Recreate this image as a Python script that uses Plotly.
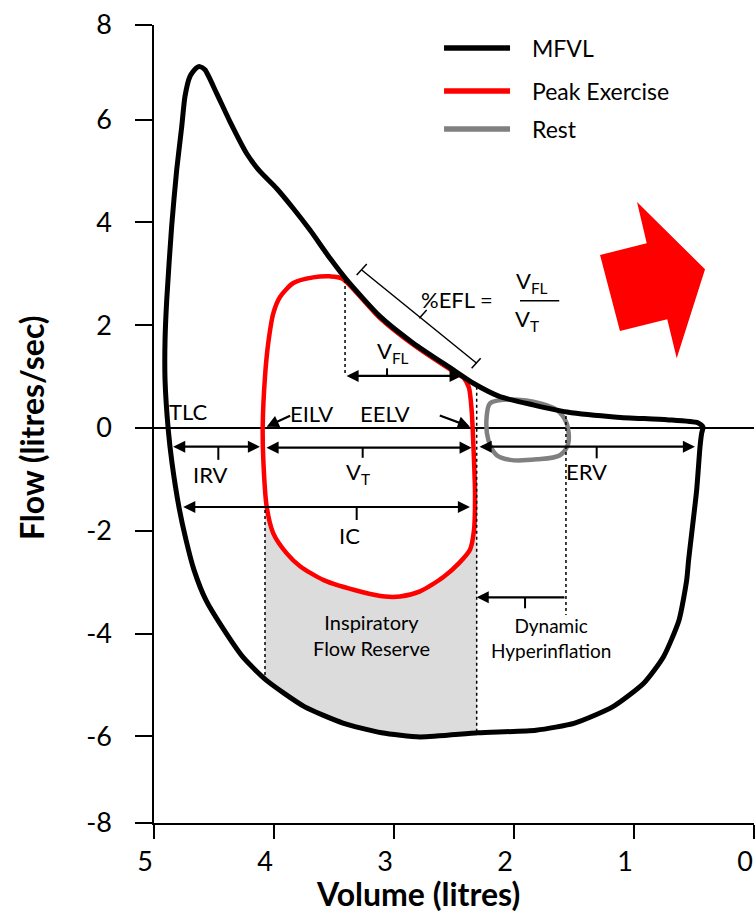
import numpy as np
import plotly.graph_objects as go

FONT = "Lato"

# ---------------- data (volume in litres, flow in litres/sec) ----------------
# Maximal flow-volume loop (MFVL)
mfvl_vol = [4.881, 4.908, 4.908, 4.894, 4.853, 4.811, 4.769, 4.742, 4.700, 4.650,
            4.617, 4.575, 4.478, 4.367, 4.228, 4.117, 3.978, 3.839, 3.700, 3.533,
            3.394, 3.117, 2.839, 2.506, 2.339, 2.117, 1.842, 1.558, 1.142, 0.725,
            0.467, 0.425, 0.436, 0.450, 0.478, 0.545, 0.561, 0.625, 0.754, 0.917,
            1.175, 1.494, 1.817, 2.300, 2.783, 3.103, 3.425, 3.747, 4.068, 4.258,
            4.433, 4.567, 4.667, 4.733, 4.792, 4.850, 4.881]
mfvl_flow = [-0.04, 0.93, 1.71, 2.49, 3.92, 5.02, 5.86, 6.45, 6.84, 7.00,
             7.03, 6.97, 6.51, 5.96, 5.34, 4.99, 4.66, 4.27, 3.85, 3.30,
             2.88, 2.17, 1.65, 1.13, 0.87, 0.61, 0.45, 0.31, 0.21, 0.16,
             0.10, 0.02, -0.10, -0.37, -1.21, -2.57, -2.96, -3.74, -4.45, -4.96,
             -5.42, -5.74, -5.88, -5.93, -6.01, -5.93, -5.74, -5.42, -4.90, -4.46,
             -3.87, -3.35, -2.76, -2.18, -1.54, -0.68, -0.04]

# Peak exercise tidal loop
ex_vol = [4.094, 4.075, 4.048, 4.006, 3.950, 3.839, 3.673, 3.533, 3.433, 3.117,
          2.839, 2.506, 2.417, 2.375, 2.353, 2.339, 2.325, 2.333, 2.367, 2.458,
          2.588, 2.783, 2.950, 3.075, 3.267, 3.586, 3.783, 3.894, 4.006, 4.061,
          4.089, 4.094]
ex_flow = [0.03, 1.00, 1.65, 2.23, 2.55, 2.82, 2.93, 2.95, 2.91, 2.14,
           1.62, 1.10, 0.97, 0.78, 0.35, -0.30, -1.27, -1.98, -2.37, -2.63,
           -2.90, -3.18, -3.28, -3.28, -3.19, -2.96, -2.69, -2.44, -2.05, -1.53,
           -0.62, 0.03]

# Resting tidal loop
rest_vol = [2.200, 2.089, 1.839, 1.644, 1.561, 1.548, 1.617, 1.811, 2.033, 2.144,
            2.214, 2.228, 2.200]
rest_flow = [0.48, 0.55, 0.51, 0.35, 0.09, -0.30, -0.53, -0.61, -0.62, -0.53,
             -0.23, 0.22, 0.48]

# Key lung volumes (litres)
tlc, eilv, eelv, eelv_rest, rv = 4.853, 4.075, 2.311, 1.567, 0.492
vfl_start = 3.408

x_ticks = [0, 1, 2, 3, 4, 5]
y_ticks = [-7.685, -6, -4, -2, 0, 2, 4, 6, 7.84]
y_tick_text = ["-8", "-6", "-4", "-2", "0", "2", "4", "6", "8"]

legend_names = ["MFVL", "Peak Exercise", "Rest"]
legend_colors = ["#000000", "#ff0000", "#808080"]

# ---------------- inspiratory flow reserve region ----------------
mv = np.array(mfvl_vol); mf = np.array(mfvl_flow)
ev = np.array(ex_vol); ef = np.array(ex_flow)
insp_m_v, insp_m_f = mv[32:56], mf[32:56]      # MFVL inspiratory branch (vol increasing)
insp_e_v, insp_e_f = ev[16:31], ef[16:31]      # exercise inspiratory branch
sel = (insp_e_v > eelv) & (insp_e_v < eilv)
top_v = np.concatenate([[eelv], insp_e_v[sel], [eilv]])
top_f = np.concatenate([[np.interp(eelv, insp_e_v, insp_e_f)], insp_e_f[sel],
                        [np.interp(eilv, insp_e_v, insp_e_f)]])
selm = (insp_m_v > eelv) & (insp_m_v < eilv)
bot_v = np.concatenate([[eilv], insp_m_v[selm][::-1], [eelv]])
bot_f = np.concatenate([[np.interp(eilv, insp_m_v, insp_m_f)], insp_m_f[selm][::-1],
                        [np.interp(eelv, insp_m_v, insp_m_f)]])
fill_v = np.concatenate([top_v, bot_v])
fill_f = np.concatenate([top_f, bot_f])

fig = go.Figure()
fig.add_trace(go.Scatter(x=fill_v, y=fill_f, fill="toself", fillcolor="#dcdcdc",
                         line=dict(width=0), mode="lines", hoverinfo="skip",
                         showlegend=False))
fig.add_trace(go.Scatter(x=rest_vol, y=rest_flow, mode="lines", name="Rest",
                         line=dict(color="#808080", width=4.5, shape="spline", smoothing=0.9),
                         showlegend=False))
fig.add_trace(go.Scatter(x=ex_vol, y=ex_flow, mode="lines", name="Peak Exercise",
                         line=dict(color="#ff0000", width=4.5, shape="spline", smoothing=0.7),
                         showlegend=False))
fig.add_trace(go.Scatter(x=mfvl_vol, y=mfvl_flow, mode="lines", name="MFVL",
                         line=dict(color="#000000", width=5, shape="spline", smoothing=0.6),
                         showlegend=False))

shapes = []
ann = []

def seg(x0, y0, x1, y1, width=2, dash="solid", color="black"):
    shapes.append(dict(type="line", xref="x", yref="y", x0=x0, y0=y0, x1=x1, y1=y1,
                       line=dict(color=color, width=width, dash=dash), layer="above"))

def arrow(xh, yh, xt, yt, both=False):
    ann.append(dict(x=xh, y=yh, ax=xt, ay=yt, xref="x", yref="y", axref="x", ayref="y",
                    text="", showarrow=True, arrowhead=2, arrowsize=1.1, arrowwidth=2.2,
                    arrowcolor="black", standoff=0, startstandoff=0,
                    arrowside="end+start" if both else "end", startarrowhead=2,
                    startarrowsize=1.1))

def text(x, y, s, size=22, xanchor="center"):
    ann.append(dict(x=x, y=y, xref="x", yref="y", text=s, showarrow=False,
                    xanchor=xanchor, yanchor="middle",
                    font=dict(family=FONT, size=size, color="black")))

# dotted guide lines
seg(vfl_start, 2.879, vfl_start, 1.012, 1.5, "dot")
seg(eelv, 0.80, eelv, -5.93, 1.5, "dot")
seg(eilv, -1.595, eilv, -4.93, 1.5, "dot")
seg(eelv_rest, 0.35, eelv_rest, -3.64, 1.5, "dot")

# horizontal volume arrows
arrow(4.117, -0.364, tlc, -0.364, both=True)           # IRV
seg(4.464, -0.364, 4.464, -0.62)
arrow(2.353, -0.383, eilv, -0.383, both=True)          # VT
seg(3.261, -0.383, 3.261, -0.58)
arrow(rv, -0.364, 2.300, -0.364, both=True)            # ERV
seg(1.311, -0.364, 1.311, -0.59)
arrow(2.367, -1.537, 4.769, -1.537, both=True)         # IC
seg(3.311, -1.537, 3.311, -1.79)
arrow(2.436, 1.012, vfl_start, 1.012, both=True)       # VFL
seg(3.058, 1.012, 3.058, 1.161)
arrow(eelv, -3.294, eelv_rest, -3.294)                 # dynamic hyperinflation
seg(1.908, -3.294, 1.908, -3.508)
arrow(4.061, 0.025, 3.853, 0.253)                      # EILV pointer
arrow(2.367, 0.025, 2.631, 0.253)                      # EELV pointer

# %EFL bracket
seg(3.269, 3.074, 2.311, 1.259, 1.5)
seg(3.311, 2.977, 3.227, 3.191, 1.5)
seg(2.353, 1.161, 2.278, 1.356, 1.5)
seg(2.789, 2.134, 2.728, 2.296, 1.5)
seg(1.950, 2.477, 1.623, 2.477, 1.5)

# labels
text(4.714, 0.317, "TLC")
text(4.533, -0.914, "IRV")
text(3.686, 0.286, "EILV")
text(3.075, 0.286, "EELV")
text(3.300, -0.875, "V<sub>T</sub>")
text(3.367, -2.082, "IC")
text(1.394, -0.850, "ERV")
text(3.006, 1.484, "V<sub>FL</sub>")
text(2.478, 2.504, "%EFL =")
text(1.853, 2.846, "V<sub>FL</sub>")
text(1.894, 2.101, "V<sub>T</sub>")
text(3.188, -4.037, "Inspiratory<br>Flow Reserve", size=20)
text(1.688, -4.091, "Dynamic<br>Hyperinflation", size=19)

# red block arrow
arr_v = [1.283, 0.894, 0.975, 0.408, 0.644, 0.723, 1.117]
arr_f = [3.366, 3.593, 4.397, 3.088, 1.356, 2.115, 1.887]
path = "M " + " L ".join(f"{v},{f}" for v, f in zip(arr_v, arr_f)) + " Z"
shapes.append(dict(type="path", xref="x", yref="y", path=path, fillcolor="#ff0000",
                   line=dict(width=0), layer="above"))

# legend (drawn manually)
leg_y = [7.393, 6.556, 5.817]
for name, col, ly in zip(legend_names, legend_colors, leg_y):
    seg(2.583, ly, 2.033, ly, 5.5, "solid", col)
    text(1.867, ly, name, size=23, xanchor="left")

# axis titles
ann.append(dict(x=0.44, y=0, xref="paper", yref="paper", yshift=-70, showarrow=False,
                text="<b>Volume (litres)</b>", xanchor="center", yanchor="middle",
                font=dict(family=FONT, size=32, color="black")))
ann.append(dict(x=0, y=0.495, xref="paper", yref="paper", xshift=-122, showarrow=False,
                text="<b>Flow (litres/sec)</b>", textangle=-90, xanchor="center",
                yanchor="middle", font=dict(family=FONT, size=32, color="black")))

fig.update_layout(
    width=755, height=917,
    margin=dict(l=154, r=1, t=25, b=94, autoexpand=False),
    paper_bgcolor="white", plot_bgcolor="white",
    shapes=shapes, annotations=ann, showlegend=False,
    font=dict(family=FONT, color="black"),
)
fig.update_xaxes(range=[5, 0], tickvals=x_ticks, ticks="outside", ticklen=14,
                 tickwidth=1.5, tickcolor="black", showline=True, linecolor="black",
                 linewidth=1.5, showgrid=False, zeroline=False, automargin=False,
                 tickfont=dict(family=FONT, size=27, color="black"),
                 ticklabelshift=9, ticklabeloverflow="allow")
fig.update_yaxes(range=[-7.685, 7.84], tickvals=y_ticks, ticktext=y_tick_text,
                 ticks="outside", ticklen=17, tickwidth=1.5, tickcolor="black",
                 showline=True, linecolor="black", linewidth=1.5, showgrid=False,
                 zeroline=True, zerolinecolor="black", zerolinewidth=1.5, automargin=False,
                 tickfont=dict(family=FONT, size=27, color="black"),
                 ticklabelstandoff=18, ticklabeloverflow="allow")

fig.write_html("out.html")
